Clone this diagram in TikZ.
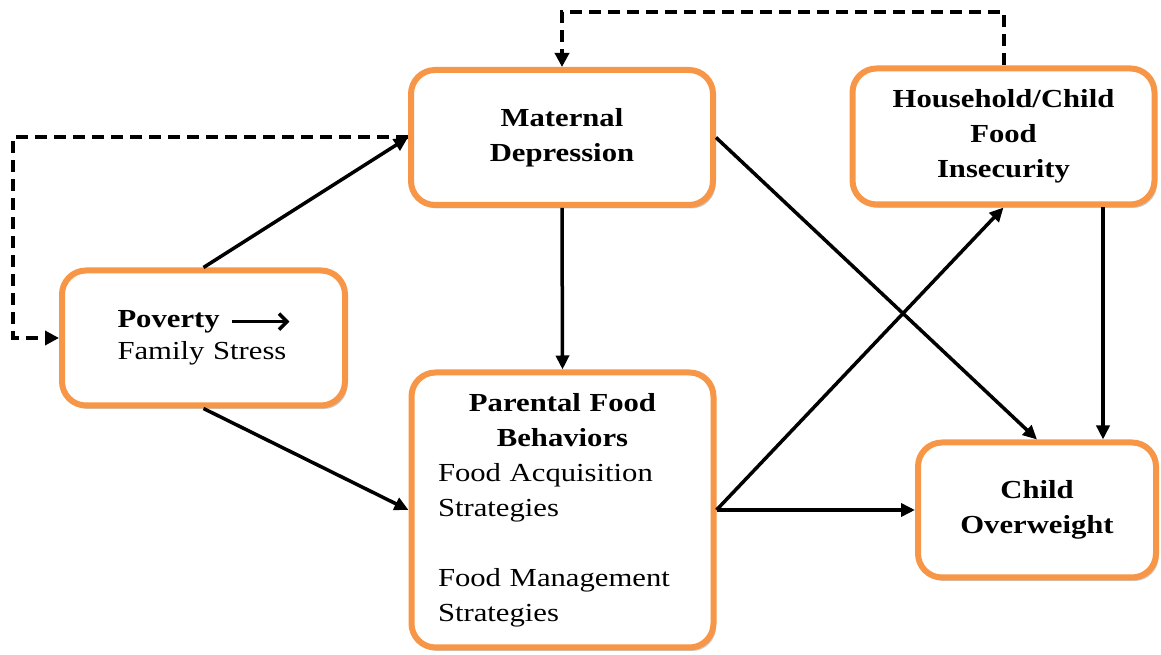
\documentclass[tikz,border=0pt]{standalone}
\usepackage{fontspec}
\setmainfont{Liberation Serif}[FakeStretch=1.18]
\usetikzlibrary{arrows.meta,shadows,calc}
\definecolor{boxorange}{HTML}{F79646}
\tikzset{
  box/.style={draw=boxorange, line width=6pt, rounded corners=24pt, fill=white,
    drop shadow={shadow xshift=2.5pt, shadow yshift=-3.5pt, opacity=0.35, fill=black!60},
    font=\fontsize{26}{35}\selectfont, inner sep=0pt},
  link/.style={line width=3.5pt, -{Triangle[length=14pt,width=13pt]}},
  dlink/.style={line width=4pt, dash pattern=on 12pt off 7pt, -{Triangle[length=14pt,width=14pt]}}
}
\begin{document}
\begin{tikzpicture}[x=1pt,y=1pt]
\useasboundingbox (0,0) rectangle (1161,655);
% boxes
\node[box, minimum width=302pt, minimum height=135pt, align=center] (mat) at (562,517.5)
  {\bfseries Maternal\\\bfseries Depression};
\node[box, minimum width=302pt, minimum height=136pt, align=center] (hh) at (1003.5,518.5)
  {\bfseries Household/Child\\\bfseries Food\\\bfseries Insecurity};
\node[box, minimum width=283pt, minimum height=135pt, text width=172pt, align=left] (pov) at (203.5,317)
  {\textbf{Poverty}\hspace{11pt}\rlap{\tikz[baseline=-6pt]\draw[line width=3.5pt,-{Straight Barb[length=8pt,width=16pt]}] (0pt,0pt) -- (57pt,0pt);}\\[-3pt]\mbox{Family Stress}};
\node[box, minimum width=302pt, minimum height=275pt, text width=249pt, align=left] (par) at (562.5,145)
  {\textbf{\makebox[249pt][c]{Parental Food}}\\\textbf{\makebox[249pt][c]{Behaviors}}\\Food Acquisition\\Strategies\\[35pt]Food Management\\Strategies};
\node[box, minimum width=238pt, minimum height=135pt, align=center] (child) at (1037,145)
  {\bfseries Child\\\bfseries Overweight};
% helper coordinates
\coordinate (top) at (0,643);
\coordinate (lft) at (13,0);
\coordinate (x7) at (1103,0);
% solid connectors
\draw[link] (pov.north) -- (mat.west);
\draw[link] (pov.south) -- (par.west);
\draw[link] (mat.south) -- (par.north);
\draw[link] (mat.east) -- (child.north);
\draw[link] (par.east) -- (hh.south);
\draw[link] (par.east) -- (child.west);
\draw[link] (hh.south -| x7) -- (child.north -| x7);
% dashed connectors
\draw[dlink] (hh.north) -- (hh.north |- top) -| (mat.north);
\draw[dlink] (mat.west) -- (mat.west -| lft) |- (pov.west);
\end{tikzpicture}
\end{document}
